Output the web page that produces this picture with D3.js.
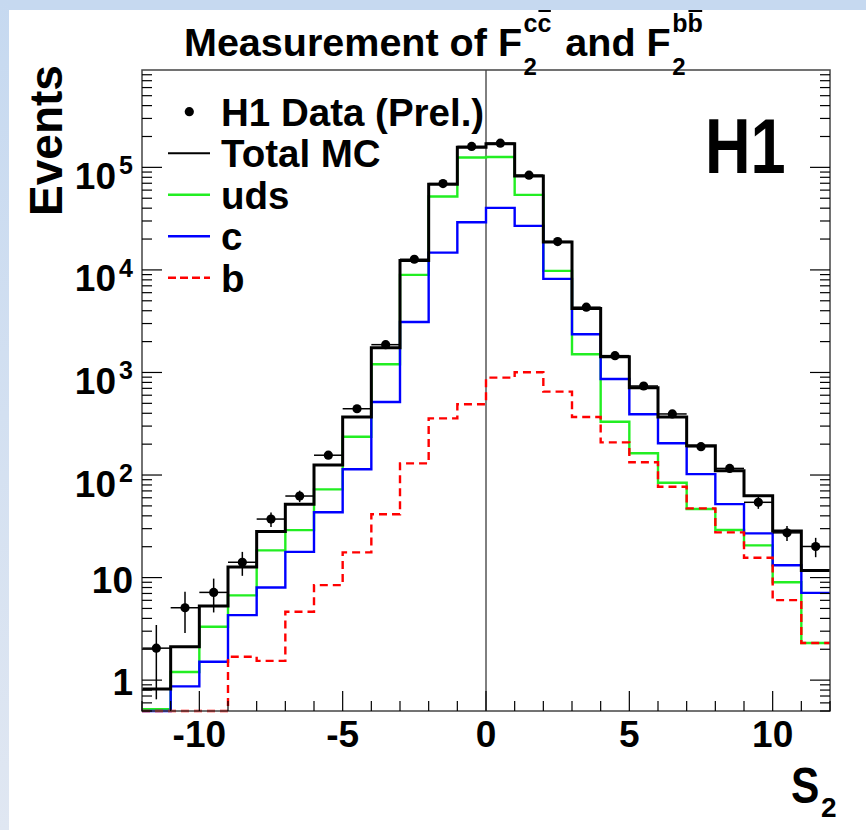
<!DOCTYPE html>
<html><head><meta charset="utf-8">
<script src="https://cdn.jsdelivr.net/npm/d3@7"></script>
<style>
html,body{margin:0;padding:0;background:#fff;}
svg{display:block;}
text{font-family:"Liberation Sans",Arial,Helvetica,sans-serif;font-weight:bold;fill:#000;}
</style></head>
<body>
<svg id="chart" width="866" height="830"></svg>
<script>
// ---------- data ----------
const binEdges = [-12,-11,-10,-9,-8,-7,-6,-5,-4,-3,-2,-1,0,1,2,3,4,5,6,7,8,9,10,11,12];
const totalMC = [0.82,2.11,5.27,12.7,28.2,51.8,125,368,1746,12330,68500,157400,169500,82600,18750,4210,1426,711,368,193,110,62.8,28.4,11.7];
const uds     = [0.52,1.2,3.31,6.7,18.4,29,72.5,236,1203,8940,51900,124700,126000,53900,9780,1506,331,163,84,46.6,29.1,20.6,9.0,2.3];
const charm   = [0.3,0.87,1.51,4.3,8.0,17.8,43.3,114,515,3110,14750,29200,40300,26900,8170,2360,864,391,204,102,52,27,13.2,7.1];
const beauty  = [0.01,0.04,0.1,1.69,1.54,4.64,8.45,17.6,41.4,130,357,490,890,1005,650,368,208,133,76.9,47.3,27.6,15.6,6.03,2.3];
const dataVals = [2.05,5.08,7.17,14.1,37.2,62.4,156,443,1867,12700,69500,160000,172000,84000,18900,4330,1459,738,394,189,116,54.2,27.3,20.1];
const dataErr  = [1.4,2.2,2.6,3.7,6,8,12.5,21,43,113,264,400,415,290,137,66,38,27,20,14,11,7.4,4.6,4.3];
const xTicks = [-10,-5,0,5,10];
const yTickExp = [0,1,2,3,4,5];
const yTickLabels = ["1","10","10|2","10|3","10|4","10|5"];
const legendLabels = ["H1 Data (Prel.)","Total MC","uds","c","b"];
const colors = {total:"#000000", uds:"#22ee22", c:"#0000ff", b:"#ff0000"};

// ---------- layout ----------
const W=866,H=830;
const L=142,R=830,T=70,B=711;
const svg=d3.select("#chart");

// background bands
const defs=svg.append("defs");
const lg=defs.append("linearGradient").attr("id","bandL").attr("x1",0).attr("y1",0).attr("x2",0).attr("y2",1);
lg.append("stop").attr("offset","0").attr("stop-color","#c6d9f0");
lg.append("stop").attr("offset","1").attr("stop-color","#e0e7f2");
svg.append("rect").attr("x",0).attr("y",0).attr("width",W).attr("height",H).attr("fill","#fff");
svg.append("rect").attr("x",0).attr("y",0).attr("width",W).attr("height",10).attr("fill","#c6d9f0");
svg.append("rect").attr("x",0).attr("y",0).attr("width",9).attr("height",H).attr("fill","url(#bandL)");

const x=d3.scaleLinear().domain([-12,12]).range([L,R]);
const y=d3.scaleLog().domain([0.5,8.9e5]).range([B,T]).clamp(true);

// zero line
svg.append("line").attr("x1",x(0)).attr("x2",x(0)).attr("y1",T).attr("y2",B).attr("stroke","#000").attr("stroke-width",1);

// histograms
function stepPts(vals){const p=[];vals.forEach((v,i)=>{p.push([binEdges[i],v]);p.push([binEdges[i+1],v]);});return p;}
const line=d3.line().x(d=>x(d[0])).y(d=>y(d[1]));
const g=svg.append("g");
g.append("path").attr("d",line(stepPts(uds))).attr("fill","none").attr("stroke",colors.uds).attr("stroke-width",2.4);
g.append("path").attr("d",line(stepPts(charm))).attr("fill","none").attr("stroke",colors.c).attr("stroke-width",2.4);
g.append("path").attr("d",line(stepPts(beauty))).attr("fill","none").attr("stroke",colors.b).attr("stroke-width",2.4).attr("stroke-dasharray","8,5");
g.append("path").attr("d",line(stepPts(totalMC))).attr("fill","none").attr("stroke",colors.total).attr("stroke-width",3);

// data points
const dg=svg.append("g");
dataVals.forEach((v,i)=>{
  const cx=x((binEdges[i]+binEdges[i+1])/2);
  dg.append("line").attr("x1",x(binEdges[i])).attr("x2",x(binEdges[i+1])).attr("y1",y(v)).attr("y2",y(v)).attr("stroke","#000").attr("stroke-width",1.5);
  dg.append("line").attr("x1",cx).attr("x2",cx).attr("y1",y(v+dataErr[i])).attr("y2",y(Math.max(v-dataErr[i],0.5))).attr("stroke","#000").attr("stroke-width",1.5);
  dg.append("circle").attr("cx",cx).attr("cy",y(v)).attr("r",4.6).attr("fill","#000");
});

// frame
svg.append("rect").attr("x",L).attr("y",T).attr("width",R-L).attr("height",B-T).attr("fill","none").attr("stroke","#444").attr("stroke-width",1.5);

// y ticks (both sides), minor 2..9
const ax=svg.append("g").attr("stroke","#000").attr("stroke-width",1.2);
const yMin=[];
[-1,0,1,2,3,4,5].forEach(e=>{[2,3,4,5,6,7,8,9].forEach(m=>{const v=m*Math.pow(10,e); if(v>=0.5&&v<=8.9e5) yMin.push(v);});});
yMin.forEach(v=>{
  ax.append("line").attr("x1",L).attr("x2",L+10).attr("y1",y(v)).attr("y2",y(v));
  ax.append("line").attr("x1",R-10).attr("x2",R).attr("y1",y(v)).attr("y2",y(v));
});
yTickExp.forEach(e=>{
  const v=Math.pow(10,e);
  ax.append("line").attr("x1",L).attr("x2",L+20).attr("y1",y(v)).attr("y2",y(v));
  ax.append("line").attr("x1",R-20).attr("x2",R).attr("y1",y(v)).attr("y2",y(v));
});
// x ticks (bottom only)
binEdges.forEach(v=>{
  const major = xTicks.indexOf(v)>=0;
  ax.append("line").attr("x1",x(v)).attr("x2",x(v)).attr("y1",B).attr("y2",B-(major?20:10));
});

// tick labels
xTicks.forEach(v=>{
  svg.append("text").attr("x",x(v)).attr("y",747).attr("text-anchor","middle").attr("font-size",37).text(v);
});
yTickLabels.forEach((lab,i)=>{
  const yy=y(Math.pow(10,yTickExp[i]));
  const parts=lab.split("|");
  if(parts.length===1){
    svg.append("text").attr("x",133).attr("y",yy+15).attr("text-anchor","end").attr("font-size",37).text(parts[0]);
  }else{
    svg.append("text").attr("x",133).attr("y",yy+7).attr("text-anchor","end").attr("font-size",25).text(parts[1]);
    svg.append("text").attr("x",116).attr("y",yy+21.5).attr("text-anchor","end").attr("font-size",37).text(parts[0]);
  }
});

// axis titles
svg.append("text").attr("transform","translate(62,140.5) rotate(-90)").attr("text-anchor","middle").attr("font-size",46).text("Events");
const s2=svg.append("g").attr("transform","translate(791,803) scale(0.85,1)");
s2.append("text").attr("x",0).attr("y",0).attr("font-size",50).text("S");
svg.append("text").attr("x",821).attr("y",817).attr("font-size",28).text("2");

// title
function addText(xx,yy,size,str){return svg.append("text").attr("x",xx).attr("y",yy).attr("font-size",size).text(str);}
const t1=addText(184,55.5,39.5,"Measurement of F");
let xEnd=184+t1.node().getComputedTextLength();
function supSub(xs,supStr){
  const sp=addText(xs+1.5,31.5,25,supStr);
  addText(xs+1.5,74.5,24,"2");
  const ext=sp.node().getExtentOfChar(1);
  svg.append("line").attr("x1",ext.x+1).attr("x2",ext.x+ext.width-0.5).attr("y1",ext.y+2.5).attr("y2",ext.y+2.5).attr("stroke","#000").attr("stroke-width",2);
  return xs+1.5+sp.node().getComputedTextLength();
}
xEnd=supSub(xEnd,"cc");
const t2=addText(xEnd+14,55.5,39.5,"and F");
xEnd=xEnd+14+t2.node().getComputedTextLength();
supSub(xEnd,"bb");

// H1 label
svg.append("g").attr("transform","translate(705,173.3) scale(0.82,1)").append("text").attr("font-size",77).text("H1");

// legend
const legY=[111.7,153.2,194.7,236.2,277.7];
const lgG=svg.append("g");
lgG.append("circle").attr("cx",189.3).attr("cy",legY[0]).attr("r",4.6).attr("fill","#000");
const legStyles=[null,{c:colors.total,w:2,d:null},{c:colors.uds,w:2.5,d:null},{c:colors.c,w:2.5,d:null},{c:colors.b,w:2.5,d:"8,4"}];
legStyles.forEach((s,i)=>{
  if(s) lgG.append("line").attr("x1",168).attr("x2",210).attr("y1",legY[i]).attr("y2",legY[i]).attr("stroke",s.c).attr("stroke-width",s.w).attr("stroke-dasharray",s.d);
  lgG.append("text").attr("x",221).attr("y",legY[i]+14).attr("font-size",38.5).text(legendLabels[i]);
});
</script>
</body></html>
